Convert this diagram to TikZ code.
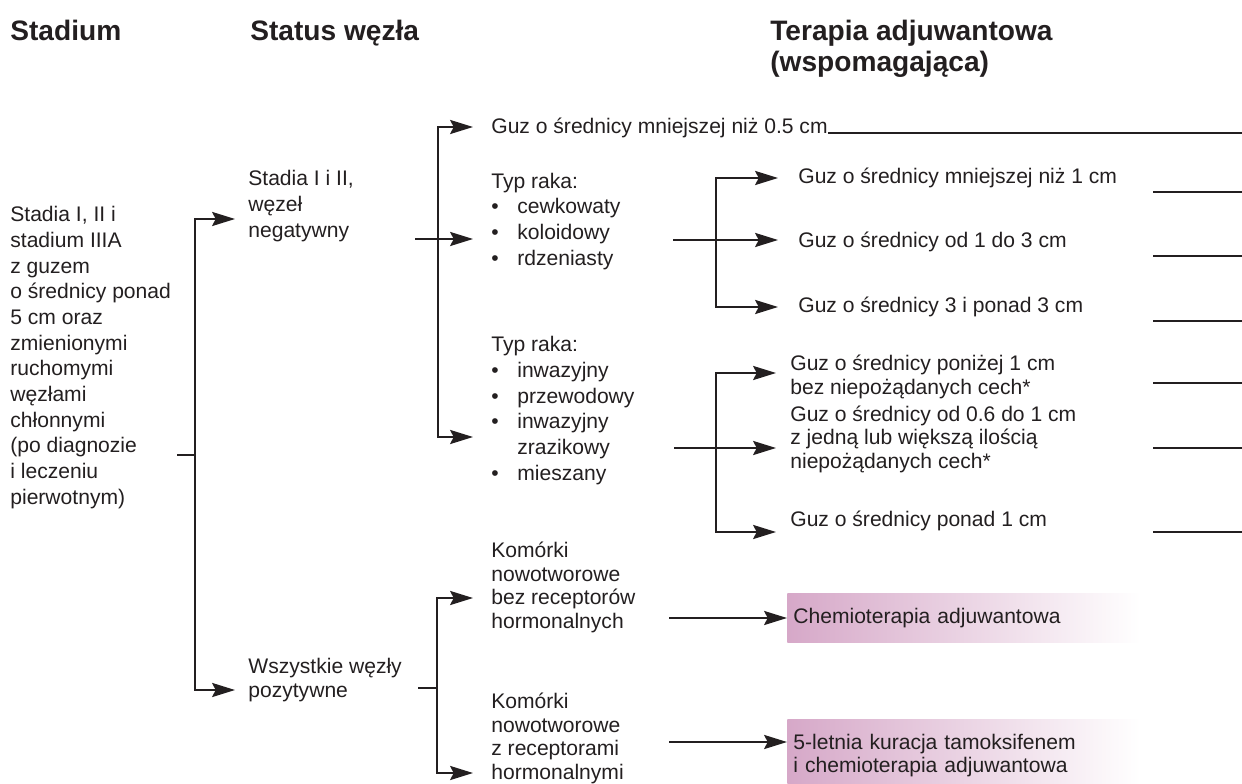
\documentclass[tikz,border=0pt]{standalone}
\usepackage{fontspec}
\setmainfont{Liberation Sans}
\usetikzlibrary{arrows.meta}
\definecolor{ink}{RGB}{35,31,32}
\definecolor{rose}{RGB}{214,168,200}
% multi-line nodes sit on the baseline of their last line
\tikzstyle{every node}=[inner sep=0pt, anchor=base west, align=left, text=ink]
\tikzstyle{head}=[font=\bfseries\fontsize{16}{18}\selectfont]
\tikzstyle{txt}=[font=\fontsize{12}{13.3}\selectfont]
\tikzstyle{loose}=[font=\fontsize{12}{14.6}\selectfont]
\tikzstyle{link}=[draw=ink, line width=1.1pt]
\tikzstyle{arr}=[link, -{Stealth[length=13pt,width=8pt,inset=2pt]}]
\tikzstyle{note}=[txt, anchor=west, left color=rose, right color=white,
  inner xsep=0.12cm, text width=6.82cm]
\newcommand{\itm}[1]{\makebox[0.52cm][l]{•}#1}

\begin{document}
\begin{tikzpicture}[x=0.02cm, y=-0.02cm]
    \useasboundingbox (0,0) rectangle (1242,784);
    % headings
    \node[head] (hstage) at (10,41) {Stadium};
    \node[head] (hnode) at (250,41) {Status węzła};
    \node[head] (hther) at (770,72) {Terapia adjuwantowa\\(wspomagająca)};

    % stage
    \node[loose] (stage) at (10,504) {Stadia I, II i\\stadium IIIA\\z guzem\\o średnicy ponad\\5 cm oraz\\zmienionymi\\ruchomymi\\węzłami\\chłonnymi\\(po diagnozie\\i leczeniu\\pierwotnym)};
    \coordinate (s1) at (177,455);
    \coordinate (b1) at (195,455);
    \coordinate (t1a) at (235,219);
    \coordinate (t1b) at (235,690);
    \draw[link] (s1) -- (b1);
    \draw[arr] (b1) |- (t1a);
    \draw[arr] (b1) |- (t1b);

    % node status
    \node[loose] (neg) at (248,237) {Stadia I i II,\\węzeł\\negatywny};
    \node[txt] (pos) at (248,697) {Wszystkie węzły\\pozytywne};

    % node negative
    \coordinate (s2) at (415,239);
    \coordinate (b2) at (438,239);
    \coordinate (t2a) at (473,127);
    \coordinate (t2b) at (473,239);
    \coordinate (t2c) at (473,437);
    \draw[arr] (s2) -- (t2b);
    \draw[arr] (b2) |- (t2a);
    \draw[arr] (b2) |- (t2c);

    \coordinate (edge) at (1242,0);
    \node[txt] (g05) at (491,133) {Guz o średnicy mniejszej niż 0.5 cm};
    \draw[link] (g05.base east) -- (g05.base east -| edge);
    \node[loose] (typ1) at (491,265) {Typ raka:\\\itm{cewkowaty}\\\itm{koloidowy}\\\itm{rdzeniasty}};
    \node[loose] (typ2) at (491,480) {Typ raka:\\\itm{inwazyjny}\\\itm{przewodowy}\\\itm{inwazyjny}\\\hspace{0.52cm}zrazikowy\\\itm{mieszany}};

    \coordinate (s3) at (673,240);
    \coordinate (b3) at (716,240);
    \coordinate (t3a) at (778,178);
    \coordinate (t3b) at (778,240);
    \coordinate (t3c) at (778,307);
    \draw[arr] (s3) -- (t3b);
    \draw[arr] (b3) |- (t3a);
    \draw[arr] (b3) |- (t3c);
    \node[txt] (g1) at (798,184) {Guz o średnicy mniejszej niż 1 cm};
    \node[txt] (g13) at (798,248) {Guz o średnicy od 1 do 3 cm};
    \node[txt] (g3) at (798,313) {Guz o średnicy 3 i ponad 3 cm};

    \coordinate (s4) at (674,448);
    \coordinate (b4) at (716,448);
    \coordinate (t4a) at (776,373);
    \coordinate (t4b) at (776,448);
    \coordinate (t4c) at (776,532);
    \draw[arr] (s4) -- (t4b);
    \draw[arr] (b4) |- (t4a);
    \draw[arr] (b4) |- (t4c);
    \node[txt] (p1) at (790,394) {Guz o średnicy poniżej 1 cm\\bez niepożądanych cech*};
    \node[txt] (p2) at (790,468) {Guz o średnicy od 0.6 do 1 cm\\z jedną lub większą ilością\\niepożądanych cech*};
    \node[txt] (p3) at (790,526) {Guz o średnicy ponad 1 cm};

    \foreach \y in {192,256,321,383,448,532}
      \draw[link] (1153,\y) -- (1242,\y);

    % node positive
    \coordinate (s5) at (418,688);
    \coordinate (b5) at (437,688);
    \coordinate (t5a) at (473,598);
    \coordinate (t5b) at (473,773);
    \draw[link] (s5) -- (b5);
    \draw[arr] (b5) |- (t5a);
    \draw[arr] (b5) |- (t5b);
    \node[txt] (k1) at (491,628) {Komórki\\nowotworowe\\bez receptorów\\hormonalnych};
    \node[txt] (k2) at (491,779) {Komórki\\nowotworowe\\z receptorami\\hormonalnymi};

    \node[note, minimum height=1cm] (chemo) at (787,618) {Chemioterapia adjuwantowa};
    \node[note, minimum height=1.46cm] (tamox) at (787,755.5) {5-letnia kuracja tamoksifenem\\i chemioterapia adjuwantowa};
    \coordinate (c1) at (669,618);
    \coordinate (c2) at (669,742);
    \draw[arr] (c1) -- (chemo.west);
    \draw[arr] (c2) -- (c2 -| tamox.west);
\end{tikzpicture}
\end{document}
